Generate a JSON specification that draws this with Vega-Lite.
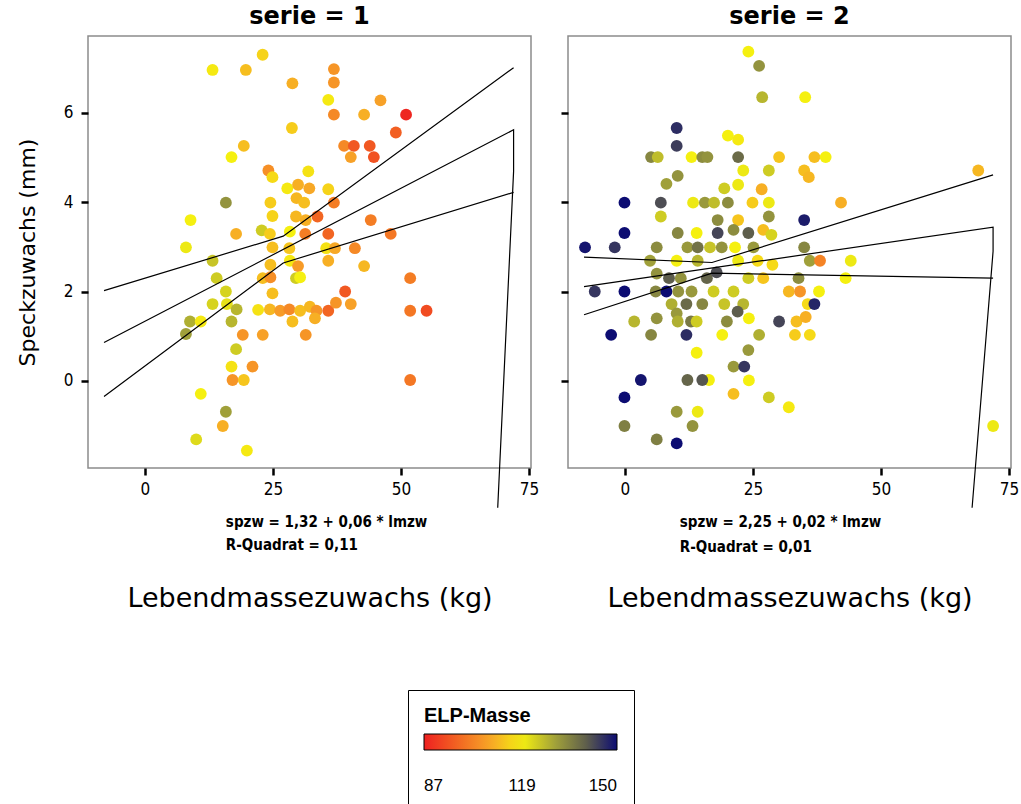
{
  "$schema": "https://vega.github.io/schema/vega-lite/v6.json",
  "autosize": {"type": "none"},
  "padding": {"left": 88, "top": 36, "right": 933, "bottom": 768},
  "background": "white",
  "datasets": {
    "pts1": [
      {"lmzw":22.98,"spzw":7.30,"elp":115},{"lmzw":13.2,"spzw":6.96,"elp":118},{"lmzw":19.7,"spzw":6.96,"elp":112},{"lmzw":36.9,"spzw":6.98,"elp":106},{"lmzw":36.9,"spzw":6.68,"elp":106},{"lmzw":28.8,"spzw":6.66,"elp":110},{"lmzw":35.8,"spzw":6.29,"elp":118},{"lmzw":46.0,"spzw":6.28,"elp":108},{"lmzw":36.9,"spzw":5.96,"elp":104},{"lmzw":42.8,"spzw":5.96,"elp":110},
      {"lmzw":51.0,"spzw":5.96,"elp":88},{"lmzw":49.0,"spzw":5.56,"elp":97},{"lmzw":28.7,"spzw":5.66,"elp":114},{"lmzw":19.3,"spzw":5.26,"elp":112},{"lmzw":16.9,"spzw":5.01,"elp":119},{"lmzw":38.9,"spzw":5.26,"elp":104},{"lmzw":40.8,"spzw":5.26,"elp":96},{"lmzw":43.9,"spzw":5.26,"elp":96},{"lmzw":40.2,"spzw":5.01,"elp":108},{"lmzw":44.7,"spzw":5.01,"elp":95},
      {"lmzw":24.1,"spzw":4.71,"elp":105},{"lmzw":24.9,"spzw":4.56,"elp":116},{"lmzw":31.9,"spzw":4.69,"elp":117},{"lmzw":27.8,"spzw":4.31,"elp":118},{"lmzw":29.9,"spzw":4.39,"elp":110},{"lmzw":32.1,"spzw":4.31,"elp":109},{"lmzw":35.8,"spzw":4.29,"elp":115},{"lmzw":15.8,"spzw":3.99,"elp":132},{"lmzw":24.5,"spzw":3.99,"elp":114},{"lmzw":29.6,"spzw":4.09,"elp":111},
      {"lmzw":31.1,"spzw":3.99,"elp":112},{"lmzw":36.9,"spzw":3.99,"elp":102},{"lmzw":8.9,"spzw":3.60,"elp":119},{"lmzw":24.9,"spzw":3.69,"elp":115},{"lmzw":29.5,"spzw":3.68,"elp":111},{"lmzw":31.4,"spzw":3.60,"elp":110},{"lmzw":33.7,"spzw":3.68,"elp":98},{"lmzw":44.1,"spzw":3.60,"elp":102},{"lmzw":17.8,"spzw":3.29,"elp":110},{"lmzw":22.8,"spzw":3.37,"elp":124},
      {"lmzw":24.4,"spzw":3.29,"elp":114},{"lmzw":28.3,"spzw":3.34,"elp":119},{"lmzw":31.3,"spzw":3.29,"elp":102},{"lmzw":35.8,"spzw":3.29,"elp":98},{"lmzw":48.0,"spzw":3.29,"elp":101},{"lmzw":8.0,"spzw":2.99,"elp":120},{"lmzw":24.9,"spzw":2.99,"elp":112},{"lmzw":28.2,"spzw":2.97,"elp":113},{"lmzw":35.4,"spzw":2.97,"elp":117},{"lmzw":37.1,"spzw":2.97,"elp":109},
      {"lmzw":41.0,"spzw":2.97,"elp":104},{"lmzw":13.2,"spzw":2.69,"elp":125},{"lmzw":24.5,"spzw":2.60,"elp":112},{"lmzw":28.3,"spzw":2.69,"elp":118},{"lmzw":29.9,"spzw":2.57,"elp":107},{"lmzw":35.8,"spzw":2.69,"elp":110},{"lmzw":42.8,"spzw":2.57,"elp":111},{"lmzw":14.0,"spzw":2.30,"elp":124},{"lmzw":23.0,"spzw":2.30,"elp":112},{"lmzw":24.5,"spzw":2.32,"elp":105},
      {"lmzw":29.5,"spzw":2.30,"elp":124},{"lmzw":30.3,"spzw":2.32,"elp":119},{"lmzw":51.8,"spzw":2.30,"elp":102},{"lmzw":15.8,"spzw":2.00,"elp":123},{"lmzw":24.9,"spzw":1.96,"elp":112},{"lmzw":39.1,"spzw":2.00,"elp":96},{"lmzw":13.2,"spzw":1.72,"elp":123},{"lmzw":16.0,"spzw":1.72,"elp":121},{"lmzw":17.9,"spzw":1.60,"elp":127},{"lmzw":22.1,"spzw":1.59,"elp":117},
      {"lmzw":24.4,"spzw":1.60,"elp":111},{"lmzw":26.4,"spzw":1.57,"elp":107},{"lmzw":28.2,"spzw":1.60,"elp":104},{"lmzw":30.3,"spzw":1.57,"elp":112},{"lmzw":32.2,"spzw":1.66,"elp":111},{"lmzw":33.5,"spzw":1.57,"elp":106},{"lmzw":35.8,"spzw":1.57,"elp":98},{"lmzw":37.3,"spzw":1.75,"elp":106},{"lmzw":40.2,"spzw":1.72,"elp":108},{"lmzw":51.8,"spzw":1.57,"elp":101},
      {"lmzw":55.0,"spzw":1.57,"elp":94},{"lmzw":8.8,"spzw":1.33,"elp":128},{"lmzw":10.9,"spzw":1.33,"elp":118},{"lmzw":16.9,"spzw":1.33,"elp":127},{"lmzw":28.8,"spzw":1.33,"elp":112},{"lmzw":33.2,"spzw":1.40,"elp":110},{"lmzw":8.0,"spzw":1.05,"elp":130},{"lmzw":19.1,"spzw":1.03,"elp":106},{"lmzw":23.0,"spzw":1.03,"elp":108},{"lmzw":31.4,"spzw":1.03,"elp":106},
      {"lmzw":17.8,"spzw":0.71,"elp":124},{"lmzw":16.9,"spzw":0.32,"elp":117},{"lmzw":21.0,"spzw":0.32,"elp":106},{"lmzw":17.1,"spzw":0.02,"elp":106},{"lmzw":19.3,"spzw":0.02,"elp":113},{"lmzw":51.8,"spzw":0.02,"elp":101},{"lmzw":10.9,"spzw":-0.29,"elp":119},{"lmzw":15.8,"spzw":-0.69,"elp":130},{"lmzw":15.2,"spzw":-1.01,"elp":110},{"lmzw":10.0,"spzw":-1.31,"elp":122},
      {"lmzw":19.9,"spzw":-1.56,"elp":118}
    ],
    "pts2": [
      {"lmzw":24.1,"spzw":7.37,"elp":119},{"lmzw":26.2,"spzw":7.05,"elp":132},{"lmzw":26.8,"spzw":6.35,"elp":127},{"lmzw":35.2,"spzw":6.35,"elp":119},{"lmzw":10.1,"spzw":5.66,"elp":146},{"lmzw":10.1,"spzw":5.26,"elp":144},{"lmzw":20.1,"spzw":5.49,"elp":119},{"lmzw":22.1,"spzw":5.40,"elp":118},{"lmzw":5.1,"spzw":5.01,"elp":134},{"lmzw":6.4,"spzw":5.01,"elp":126},
      {"lmzw":13.0,"spzw":5.01,"elp":119},{"lmzw":15.1,"spzw":5.01,"elp":133},{"lmzw":16.1,"spzw":5.01,"elp":132},{"lmzw":22.1,"spzw":5.01,"elp":138},{"lmzw":30.1,"spzw":5.01,"elp":113},{"lmzw":37.0,"spzw":5.01,"elp":112},{"lmzw":39.2,"spzw":5.01,"elp":119},{"lmzw":23.1,"spzw":4.71,"elp":120},{"lmzw":28.1,"spzw":4.71,"elp":124},{"lmzw":35.0,"spzw":4.71,"elp":112},
      {"lmzw":35.9,"spzw":4.56,"elp":111},{"lmzw":10.3,"spzw":4.59,"elp":132},{"lmzw":8.1,"spzw":4.41,"elp":130},{"lmzw":19.4,"spzw":4.31,"elp":124},{"lmzw":22.1,"spzw":4.39,"elp":120},{"lmzw":26.7,"spzw":4.29,"elp":110},{"lmzw":-0.1,"spzw":3.99,"elp":150},{"lmzw":7.0,"spzw":3.99,"elp":142},{"lmzw":13.3,"spzw":3.99,"elp":120},{"lmzw":15.6,"spzw":3.99,"elp":131},
      {"lmzw":17.4,"spzw":3.99,"elp":126},{"lmzw":20.1,"spzw":3.99,"elp":133},{"lmzw":24.9,"spzw":3.99,"elp":114},{"lmzw":28.1,"spzw":3.99,"elp":120},{"lmzw":42.2,"spzw":3.99,"elp":110},{"lmzw":7.0,"spzw":3.68,"elp":124},{"lmzw":18.1,"spzw":3.60,"elp":133},{"lmzw":22.1,"spzw":3.60,"elp":113},{"lmzw":28.1,"spzw":3.68,"elp":132},{"lmzw":35.0,"spzw":3.60,"elp":148},
      {"lmzw":-0.1,"spzw":3.31,"elp":150},{"lmzw":10.3,"spzw":3.31,"elp":134},{"lmzw":14.0,"spzw":3.31,"elp":119},{"lmzw":18.1,"spzw":3.31,"elp":143},{"lmzw":21.2,"spzw":3.38,"elp":133},{"lmzw":24.1,"spzw":3.31,"elp":140},{"lmzw":27.0,"spzw":3.38,"elp":112},{"lmzw":28.6,"spzw":3.27,"elp":123},{"lmzw":-7.8,"spzw":2.99,"elp":149},{"lmzw":-2.0,"spzw":2.99,"elp":145},
      {"lmzw":6.2,"spzw":2.99,"elp":133},{"lmzw":12.2,"spzw":2.99,"elp":131},{"lmzw":14.2,"spzw":2.99,"elp":137},{"lmzw":16.6,"spzw":2.99,"elp":125},{"lmzw":18.9,"spzw":2.99,"elp":132},{"lmzw":21.5,"spzw":2.99,"elp":119},{"lmzw":25.1,"spzw":2.99,"elp":131},{"lmzw":35.0,"spzw":2.99,"elp":134},{"lmzw":4.9,"spzw":2.69,"elp":130},{"lmzw":10.1,"spzw":2.69,"elp":119},
      {"lmzw":14.2,"spzw":2.69,"elp":127},{"lmzw":22.1,"spzw":2.69,"elp":120},{"lmzw":25.9,"spzw":2.69,"elp":116},{"lmzw":28.8,"spzw":2.60,"elp":116},{"lmzw":36.1,"spzw":2.69,"elp":130},{"lmzw":38.1,"spzw":2.69,"elp":103},{"lmzw":44.1,"spzw":2.69,"elp":120},{"lmzw":6.2,"spzw":2.40,"elp":132},{"lmzw":8.6,"spzw":2.30,"elp":140},{"lmzw":10.9,"spzw":2.30,"elp":132},
      {"lmzw":16.0,"spzw":2.30,"elp":139},{"lmzw":17.9,"spzw":2.43,"elp":142},{"lmzw":24.1,"spzw":2.30,"elp":124},{"lmzw":27.0,"spzw":2.30,"elp":113},{"lmzw":33.9,"spzw":2.30,"elp":133},{"lmzw":43.1,"spzw":2.30,"elp":119},{"lmzw":-5.9,"spzw":2.00,"elp":145},{"lmzw":-0.1,"spzw":2.00,"elp":150},{"lmzw":6.0,"spzw":2.00,"elp":134},{"lmzw":8.1,"spzw":2.00,"elp":150},
      {"lmzw":10.4,"spzw":2.00,"elp":132},{"lmzw":13.0,"spzw":2.00,"elp":131},{"lmzw":17.3,"spzw":2.00,"elp":124},{"lmzw":21.2,"spzw":2.00,"elp":124},{"lmzw":32.0,"spzw":2.00,"elp":111},{"lmzw":34.2,"spzw":2.00,"elp":106},{"lmzw":37.9,"spzw":2.00,"elp":119},{"lmzw":9.1,"spzw":1.72,"elp":128},{"lmzw":12.0,"spzw":1.72,"elp":138},{"lmzw":15.1,"spzw":1.72,"elp":134},
      {"lmzw":19.4,"spzw":1.72,"elp":125},{"lmzw":23.1,"spzw":1.72,"elp":127},{"lmzw":35.7,"spzw":1.72,"elp":116},{"lmzw":37.0,"spzw":1.72,"elp":147},{"lmzw":10.1,"spzw":1.51,"elp":131},{"lmzw":22.0,"spzw":1.55,"elp":140},{"lmzw":1.8,"spzw":1.33,"elp":127},{"lmzw":6.2,"spzw":1.40,"elp":132},{"lmzw":10.3,"spzw":1.33,"elp":128},{"lmzw":12.9,"spzw":1.33,"elp":136},
      {"lmzw":14.0,"spzw":1.33,"elp":124},{"lmzw":19.9,"spzw":1.33,"elp":133},{"lmzw":24.2,"spzw":1.40,"elp":119},{"lmzw":30.1,"spzw":1.33,"elp":143},{"lmzw":33.5,"spzw":1.33,"elp":112},{"lmzw":35.3,"spzw":1.43,"elp":110},{"lmzw":-2.7,"spzw":1.03,"elp":150},{"lmzw":5.1,"spzw":1.03,"elp":134},{"lmzw":12.0,"spzw":1.03,"elp":146},{"lmzw":19.0,"spzw":1.03,"elp":119},
      {"lmzw":26.2,"spzw":1.03,"elp":128},{"lmzw":33.2,"spzw":1.03,"elp":114},{"lmzw":36.1,"spzw":1.03,"elp":116},{"lmzw":14.0,"spzw":0.63,"elp":119},{"lmzw":24.1,"spzw":0.69,"elp":131},{"lmzw":21.2,"spzw":0.32,"elp":131},{"lmzw":23.3,"spzw":0.32,"elp":145},{"lmzw":3.1,"spzw":0.02,"elp":149},{"lmzw":16.4,"spzw":0.02,"elp":119},{"lmzw":12.2,"spzw":0.02,"elp":139},
      {"lmzw":15.1,"spzw":0.02,"elp":141},{"lmzw":24.2,"spzw":0.01,"elp":119},{"lmzw":-0.1,"spzw":-0.37,"elp":150},{"lmzw":21.2,"spzw":-0.29,"elp":112},{"lmzw":28.1,"spzw":-0.37,"elp":124},{"lmzw":32.0,"spzw":-0.59,"elp":118},{"lmzw":10.1,"spzw":-0.69,"elp":131},{"lmzw":14.2,"spzw":-0.69,"elp":120},{"lmzw":-0.1,"spzw":-1.01,"elp":135},{"lmzw":13.2,"spzw":-1.01,"elp":132},
      {"lmzw":6.2,"spzw":-1.31,"elp":135},{"lmzw":10.1,"spzw":-1.40,"elp":150},{"lmzw":69.0,"spzw":4.71,"elp":111},{"lmzw":71.9,"spzw":-1.01,"elp":120}
    ],
    "ln1": [
      {"band":"fit","i":1,"lmzw":-8,"spzw":0.86},{"band":"fit","i":2,"lmzw":72,"spzw":5.62},{"band":"fit","i":3,"lmzw":72,"spzw":4.69},{"band":"fit","i":4,"lmzw":68.9,"spzw":-2.84},
      {"band":"upper","i":1,"lmzw":-8,"spzw":2.02},{"band":"upper","i":2,"lmzw":27,"spzw":3.24},{"band":"upper","i":3,"lmzw":72,"spzw":7.01},
      {"band":"lower","i":1,"lmzw":-8,"spzw":-0.35},{"band":"lower","i":2,"lmzw":27,"spzw":2.64},{"band":"lower","i":3,"lmzw":72,"spzw":4.22}
    ],
    "ln2": [
      {"band":"fit","i":1,"lmzw":-8,"spzw":2.11},{"band":"fit","i":2,"lmzw":71.9,"spzw":3.44},{"band":"fit","i":3,"lmzw":71.9,"spzw":2.9},{"band":"fit","i":4,"lmzw":67.8,"spzw":-2.84},
      {"band":"upper","i":1,"lmzw":-8,"spzw":2.77},{"band":"upper","i":2,"lmzw":17,"spzw":2.65},{"band":"upper","i":3,"lmzw":71.9,"spzw":4.61},
      {"band":"lower","i":1,"lmzw":-8,"spzw":1.48},{"band":"lower","i":2,"lmzw":17,"spzw":2.41},{"band":"lower","i":3,"lmzw":71.9,"spzw":2.30}
    ]
  },
  "spacing": 37,
  "bounds": "flush",
  "resolve": {"scale": {"color": "shared"}},
  "hconcat": [
    {
      "width": 443,
      "height": 432,
      "title": {"text": "serie = 1", "fontSize": 24, "fontWeight": "bold", "font": "DejaVu Sans, sans-serif", "offset": 7, "anchor": "middle"},
      "layer": [
        {
          "data": {"name": "pts1"},
          "mark": {"type": "circle", "size": 140, "opacity": 1},
          "encoding": {
            "x": {"field": "lmzw", "type": "quantitative", "scale": {"domain": [-11.13, 75.4], "nice": false, "zero": false},
                  "axis": {"values": [0, 25, 50, 75], "title": "Lebendmassezuwachs (kg)", "titlePadding": 88}},
            "y": {"field": "spzw", "type": "quantitative", "scale": {"domain": [-1.95, 7.72], "nice": false, "zero": false},
                  "axis": {"values": [0, 2, 4, 6], "title": "Speckzuwachs (mm)", "titlePadding": 24}},
            "color": {"field": "elp", "type": "quantitative",
                      "scale": {"domain": [87, 98, 108, 119, 130, 140, 150], "range": ["#ee2020", "#f26522", "#f7a128", "#f5f010", "#a0a03a", "#5e5e4c", "#0c0c72"], "interpolate": "rgb"},
                      "legend": {"orient": "none", "legendX": 320, "legendY": 654, "direction": "horizontal", "title": "ELP-Masse", "values": [87, 119, 150], "labelOffset": 28, "labelFontSize": 17}}
          }
        },
        {
          "data": {"name": "ln1"},
          "mark": {"type": "line", "color": "black", "strokeWidth": 1.2, "clip": false},
          "encoding": {
            "x": {"field": "lmzw", "type": "quantitative"},
            "y": {"field": "spzw", "type": "quantitative"},
            "detail": {"field": "band"},
            "order": {"field": "i"}
          }
        },
        {
          "data": {"values": [{}]},
          "mark": {"type": "text", "align": "left", "baseline": "middle", "fontWeight": "bold", "fontSize": 15, "font": "Liberation Sans Narrow, DejaVu Sans Condensed, sans-serif", "clip": false},
          "encoding": {"x": {"datum": 15.8, "type": "quantitative"}, "y": {"datum": -3.16, "type": "quantitative"}, "text": {"value": "spzw = 1,32 + 0,06 * lmzw"}}
        },
        {
          "data": {"values": [{}]},
          "mark": {"type": "text", "align": "left", "baseline": "middle", "fontWeight": "bold", "fontSize": 15, "font": "Liberation Sans Narrow, DejaVu Sans Condensed, sans-serif", "clip": false},
          "encoding": {"x": {"datum": 15.8, "type": "quantitative"}, "y": {"datum": -3.67, "type": "quantitative"}, "text": {"value": "R-Quadrat = 0,11"}}
        }
      ]
    },
    {
      "width": 443,
      "height": 432,
      "title": {"text": "serie = 2", "fontSize": 24, "fontWeight": "bold", "font": "DejaVu Sans, sans-serif", "offset": 7, "anchor": "middle"},
      "layer": [
        {
          "data": {"name": "pts2"},
          "mark": {"type": "circle", "size": 140, "opacity": 1},
          "encoding": {
            "x": {"field": "lmzw", "type": "quantitative", "scale": {"domain": [-11.13, 75.4], "nice": false, "zero": false},
                  "axis": {"values": [0, 25, 50, 75], "title": "Lebendmassezuwachs (kg)", "titlePadding": 88}},
            "y": {"field": "spzw", "type": "quantitative", "scale": {"domain": [-1.95, 7.72], "nice": false, "zero": false},
                  "axis": {"values": [0, 2, 4, 6], "title": null, "labels": false}},
            "color": {"field": "elp", "type": "quantitative",
                      "scale": {"domain": [87, 98, 108, 119, 130, 140, 150], "range": ["#ee2020", "#f26522", "#f7a128", "#f5f010", "#a0a03a", "#5e5e4c", "#0c0c72"], "interpolate": "rgb"},
                      "legend": {"orient": "none", "legendX": 320, "legendY": 654, "direction": "horizontal", "title": "ELP-Masse", "values": [87, 119, 150], "labelOffset": 28, "labelFontSize": 17}}
          }
        },
        {
          "data": {"name": "ln2"},
          "mark": {"type": "line", "color": "black", "strokeWidth": 1.2, "clip": false},
          "encoding": {
            "x": {"field": "lmzw", "type": "quantitative"},
            "y": {"field": "spzw", "type": "quantitative"},
            "detail": {"field": "band"},
            "order": {"field": "i"}
          }
        },
        {
          "data": {"values": [{}]},
          "mark": {"type": "text", "align": "left", "baseline": "middle", "fontWeight": "bold", "fontSize": 15, "font": "Liberation Sans Narrow, DejaVu Sans Condensed, sans-serif", "clip": false},
          "encoding": {"x": {"datum": 10.7, "type": "quantitative"}, "y": {"datum": -3.16, "type": "quantitative"}, "text": {"value": "spzw = 2,25 + 0,02 * lmzw"}}
        },
        {
          "data": {"values": [{}]},
          "mark": {"type": "text", "align": "left", "baseline": "middle", "fontWeight": "bold", "fontSize": 15, "font": "Liberation Sans Narrow, DejaVu Sans Condensed, sans-serif", "clip": false},
          "encoding": {"x": {"datum": 10.7, "type": "quantitative"}, "y": {"datum": -3.72, "type": "quantitative"}, "text": {"value": "R-Quadrat = 0,01"}}
        }
      ]
    }
  ],
  "config": {
    "view": {"stroke": "#8c8c8c", "strokeWidth": 1.5},
    "axis": {
      "domain": false, "grid": false,
      "tickSize": 7, "tickWidth": 2.5, "tickColor": "black",
      "labelFont": "Liberation Sans Narrow, DejaVu Sans Condensed, sans-serif", "labelFontSize": 17, "labelColor": "black", "labelPadding": 6, "labelFlush": false,
      "titleFont": "DejaVu Sans, sans-serif", "titleFontSize": 27, "titleFontWeight": "normal", "titleColor": "black"
    },
    "axisY": {"titleFontSize": 22, "labelPadding": 8},
    "legend": {
      "gradientLength": 193, "gradientThickness": 16, "gradientStrokeColor": "black", "gradientStrokeWidth": 1,
      "titleFont": "Liberation Sans, sans-serif", "titleFontSize": 20, "titleFontWeight": "bold", "titleColor": "black", "titlePadding": 8,
      "labelFont": "Liberation Sans, sans-serif", "labelColor": "black", "labelAlign": "center",
      "strokeColor": "black", "fillColor": "white", "padding": 16
    }
  }
}
